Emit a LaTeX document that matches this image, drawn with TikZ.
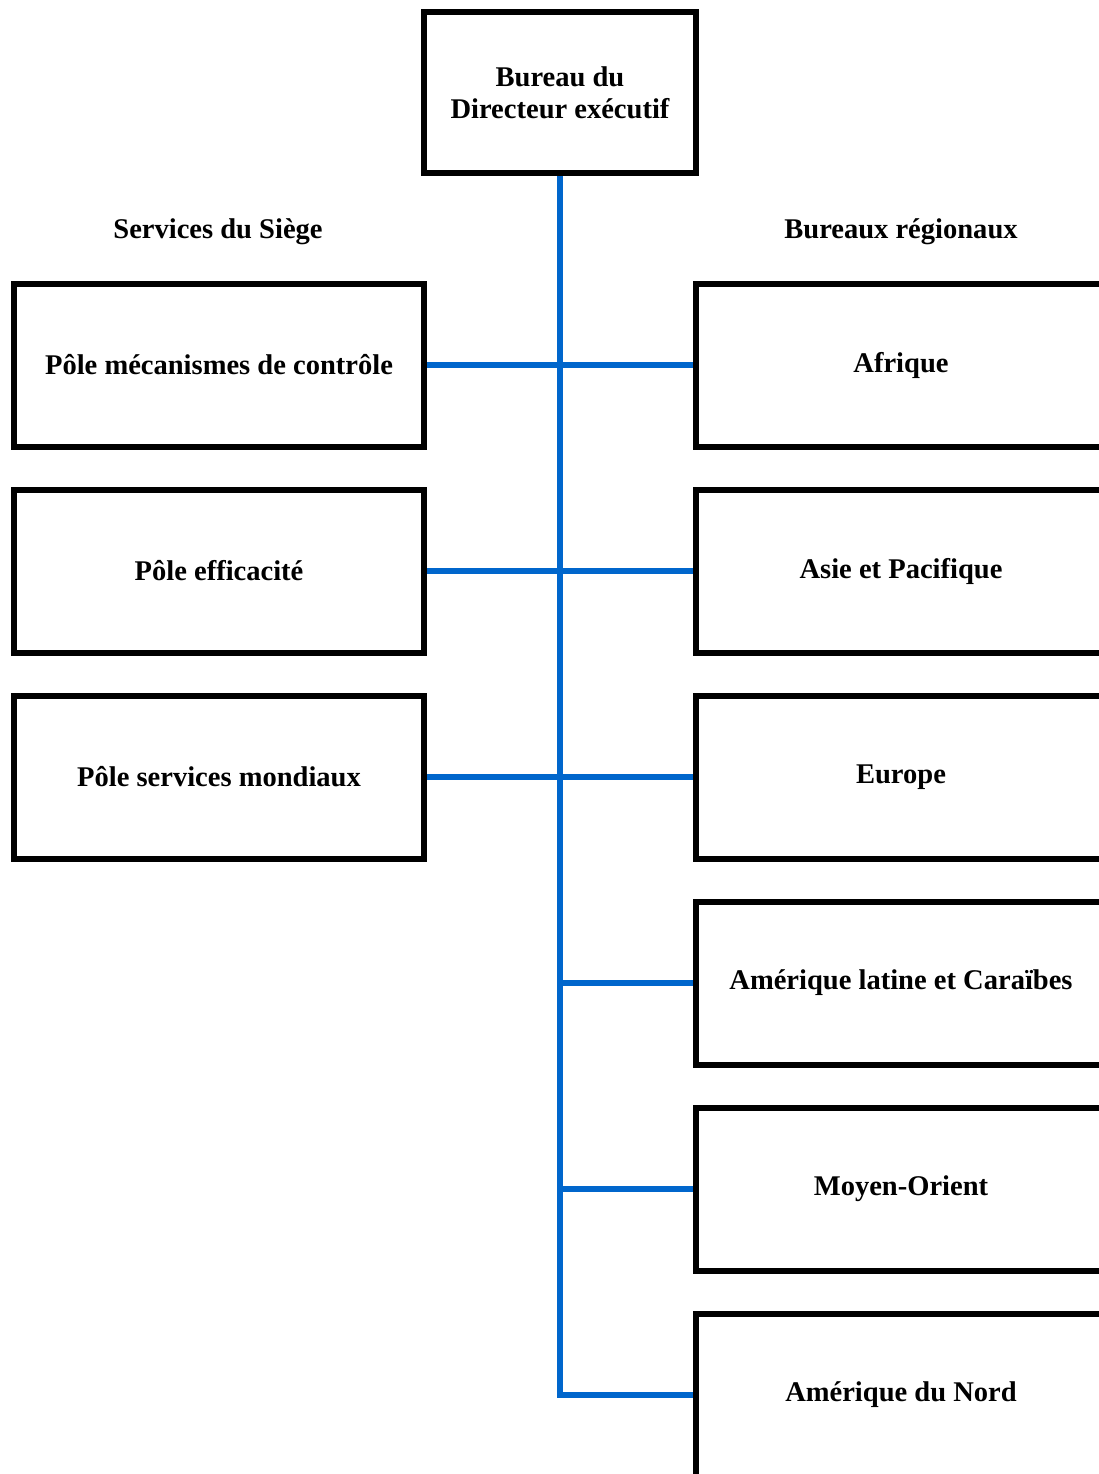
\documentclass[tikz,border=0pt]{standalone}
\usepackage{fontspec}
\setmainfont{Liberation Serif}
\definecolor{LinkBlue}{HTML}{0066CC}
\usepackage{tikz}
\usetikzlibrary{positioning}

\begin{document}
\begin{tikzpicture}[x=0.75pt, y=-0.75pt,
    every node/.style={font=\fontsize{21.4}{24}\selectfont\bfseries},
    pole/.style={draw, line width=4.5pt, minimum width=307.5pt, minimum height=122.25pt, align=center},
    link/.style={draw=LinkBlue, line width=4.5pt}]
    \path[use as bounding box, clip] (0,0) rectangle (1099,1474);
    % direction
    \node[pole, minimum width=204pt, minimum height=120.75pt] (dir) at (560,92.5) {Bureau du\\Directeur exécutif};
    \node (hq) at (218,232) {Services du Siège};
    \node (reg) at (901,232) {Bureaux régionaux};
    % services du siege
    \node[pole] (ctrl) at (219,365) {Pôle mécanismes de contrôle};
    \node[pole, below=27.75pt of ctrl] (eff) {Pôle efficacité};
    \node[pole, below=27.75pt of eff] (glob) {Pôle services mondiaux};
    % bureaux regionaux
    \node[pole] (afr) at (901,365) {Afrique};
    \node[pole, below=27.75pt of afr] (asia) {Asie et Pacifique};
    \node[pole, below=27.75pt of asia] (eur) {Europe};
    \node[pole, below=27.75pt of eur] (lat) {Amérique latine et Caraïbes};
    \node[pole, below=27.75pt of lat] (mo) {Moyen-Orient};
    \node[pole, below=27.75pt of mo] (nord) {Amérique du Nord};
    % liens
    \draw[link] (dir.south) -- (dir.south |- nord.west) -- (nord.west);
    \draw[link] (ctrl.east) -- (afr.west);
    \draw[link] (eff.east) -- (asia.west);
    \draw[link] (glob.east) -- (eur.west);
    \draw[link] (dir.south |- lat.west) -- (lat.west);
    \draw[link] (dir.south |- mo.west) -- (mo.west);
  \end{tikzpicture}
\end{document}
